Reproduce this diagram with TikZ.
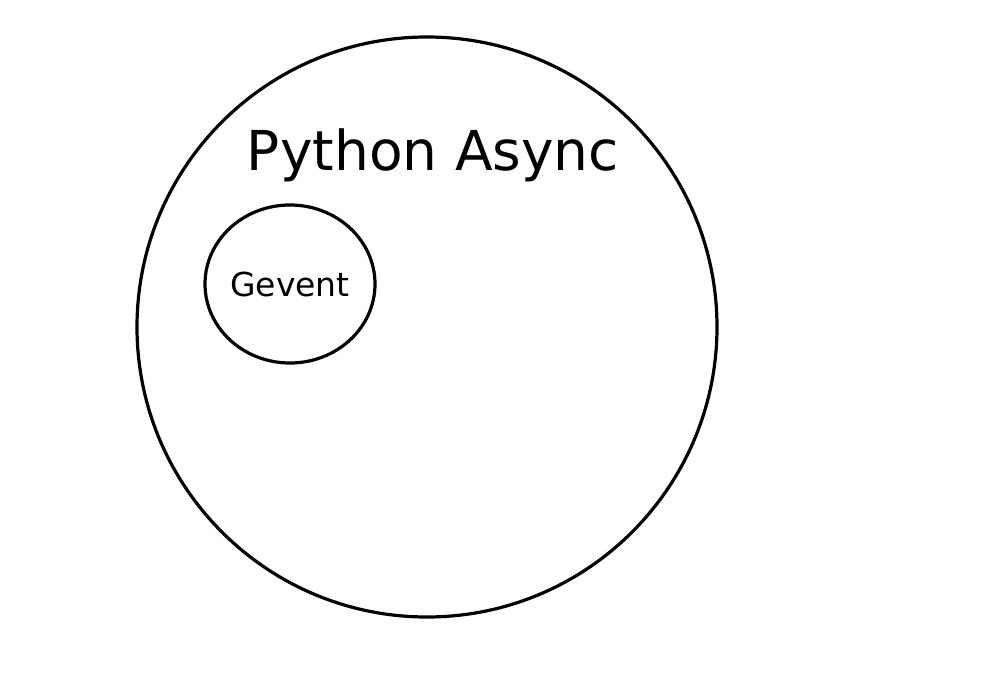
\documentclass[tikz,border=0pt]{standalone}
\usepackage{fontspec}
\setmainfont{DejaVu Sans}
\usetikzlibrary{shapes.geometric}
\begin{document}
\begin{tikzpicture}[x=1pt,y=-1pt,
  ring/.style={draw=black,line width=3.2pt,ellipse,inner sep=0pt}]
\useasboundingbox (0,0) rectangle (994,698);
\node[ring,minimum width=580pt,minimum height=580pt] (outer) at (427,327) {};
\node[ring,minimum width=170pt,minimum height=158pt] (inner) at (290,284) {};
\node (title) at (433,155) {\fontsize{55}{60}\selectfont Python Async};
\node (gev) at (290,284) {\fontsize{33}{38}\selectfont Gevent};
\end{tikzpicture}
\end{document}
